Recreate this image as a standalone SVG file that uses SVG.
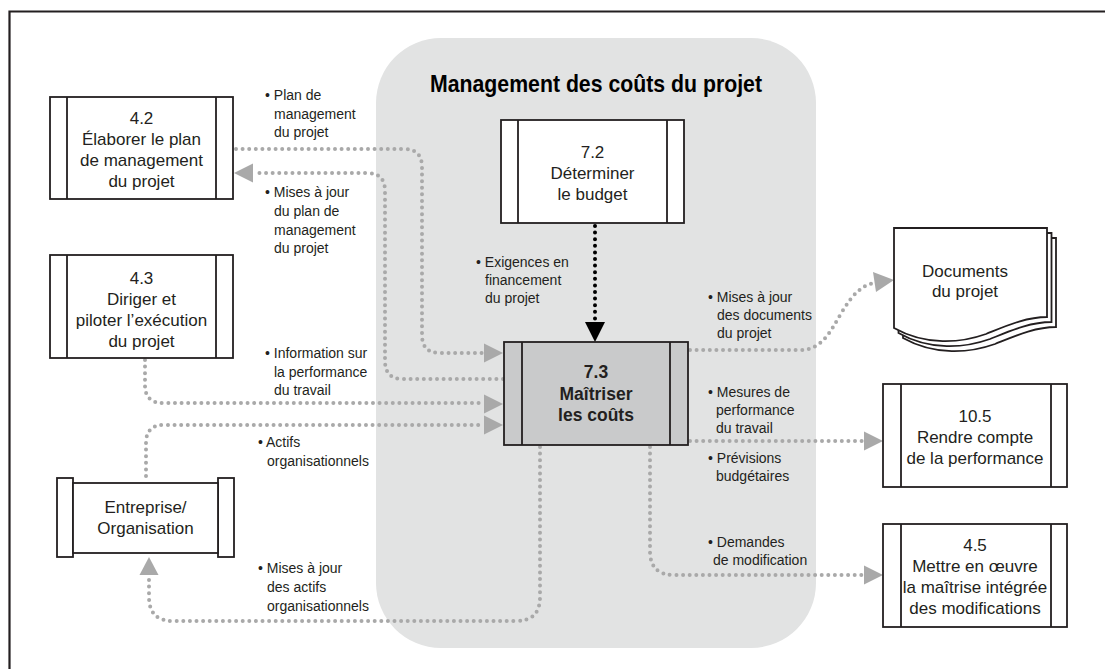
<svg xmlns="http://www.w3.org/2000/svg" width="1105" height="669" viewBox="0 0 1105 669">
<style>
.box{fill:#fff;stroke:#231f20;stroke-width:1.8}
.box73{fill:#c9cacb;stroke:#231f20;stroke-width:1.8}
.bar{fill:none;stroke:#231f20;stroke-width:1.8}
.nt{font-family:"Liberation Sans",Arial,sans-serif;font-size:17px;fill:#231f20;text-anchor:middle}
.bt{font-family:"Liberation Sans",Arial,sans-serif;font-size:17.5px;font-weight:bold;fill:#231f20;text-anchor:middle}
.lb{font-family:"Liberation Sans",Arial,sans-serif;font-size:14px;fill:#231f20}
.dot{fill:none;stroke:#a9a9a9;stroke-width:4;stroke-linecap:round;stroke-dasharray:0 6.6}
.bdot{fill:none;stroke:#000;stroke-width:4;stroke-linecap:round;stroke-dasharray:0 6.6}
.ah{fill:#a9a9a9}
</style>
<rect width="1105" height="669" fill="#fff"/>
<path d="M9.5 669 V11.5 H1105" fill="none" stroke="#231f20" stroke-width="2.2"/>
<rect x="376" y="38" width="440" height="610" rx="65" ry="65" fill="#e2e3e3"/>
<text x="596" y="92" font-family="Liberation Sans,Arial,sans-serif" font-size="24" font-weight="bold" fill="#000" text-anchor="middle" textLength="332" lengthAdjust="spacingAndGlyphs">Management des coûts du projet</text>

<g id="connectors">
<path class="dot" d="M236,149 H404 Q422,149 422,167 V335 Q422,353 440,353 H484"/>
<polygon class="ah" points="503,353 484,343.5 484,362.5"/>
<path class="dot" d="M503,379 H403 Q385,379 385,361 V191 Q385,173 367,173 H254"/>
<polygon class="ah" points="234,173 253,163.5 253,182.5"/>
<path class="dot" d="M145,360 V385 Q145,403 163,403 H484"/>
<polygon class="ah" points="503,404 484,394.5 484,413.5"/>
<path class="dot" d="M146,476 V443 Q146,425 164,425 H484"/>
<polygon class="ah" points="503,425 484,415.5 484,434.5"/>
<path class="dot" d="M540,447 V597 Q540,621 516,621 H173 Q149,621 149,597 V576"/>
<polygon class="ah" points="149,557 139.5,575 158.5,575"/>
<path class="dot" d="M690,350 H800 C822,350 830,332 842,312 C852,295 862,285 874,283"/>
<polygon class="ah" points="894,280 873,272 876,292"/>
<path class="dot" d="M690,441 H864"/>
<polygon class="ah" points="883,441 864,431.5 864,450.5"/>
<path class="dot" d="M650,447 V551 Q650,575 674,575 H864"/>
<polygon class="ah" points="883,575 864,565.5 864,584.5"/>
<path class="bdot" d="M595,226 V320"/>
<polygon points="595,342 585,322 605,322" fill="#000"/>
</g>

<g id="n42">
<rect class="box" x="50" y="97" width="183" height="102"/>
<path class="bar" d="M67,97 V199 M216,97 V199"/>
<text class="nt"><tspan x="141.5" y="124">4.2</tspan><tspan x="141.5" y="145">Élaborer le plan</tspan><tspan x="141.5" y="166">de management</tspan><tspan x="141.5" y="187">du projet</tspan></text>
</g>
<g id="n43">
<rect class="box" x="50" y="255" width="183" height="103"/>
<path class="bar" d="M67,255 V358 M216,255 V358"/>
<text class="nt"><tspan x="141.5" y="284">4.3</tspan><tspan x="141.5" y="305">Diriger et</tspan><tspan x="141.5" y="326">piloter l’exécution</tspan><tspan x="141.5" y="347">du projet</tspan></text>
</g>
<g id="ent">
<rect class="box" x="57" y="478" width="16" height="79"/>
<rect class="box" x="218" y="478" width="16" height="79"/>
<rect class="box" x="73" y="483" width="145" height="70"/>
<text class="nt"><tspan x="145.5" y="513">Entreprise/</tspan><tspan x="145.5" y="534">Organisation</tspan></text>
</g>
<g id="n72">
<rect class="box" x="501" y="120" width="183" height="103"/>
<path class="bar" d="M518,120 V223 M667,120 V223"/>
<text class="nt"><tspan x="592.5" y="158">7.2</tspan><tspan x="592.5" y="179">Déterminer</tspan><tspan x="592.5" y="200">le budget</tspan></text>
</g>
<g id="n73">
<rect class="box73" x="504" y="342" width="184" height="103"/>
<path class="bar" d="M522,342 V445 M670,342 V445"/>
<text class="bt"><tspan x="596" y="378">7.3</tspan><tspan x="596" y="400">Maîtriser</tspan><tspan x="596" y="421">les coûts</tspan></text>
</g>
<g id="docs">
<path class="box" d="M903,238 H1056 V327 C1035,327 1015,336 995,344 C970,353 935,356 903,338 Z"/>
<path class="box" d="M898.5,233 H1051.5 V322 C1030,322 1010,331 990,339 C965,348 930,351 898.5,333 Z"/>
<path class="box" d="M894,228 H1047 V317 C1026,317 1006,326 986,334 C961,343 926,346 894,328 Z"/>
<text class="nt"><tspan x="965" y="277">Documents</tspan><tspan x="965" y="297">du projet</tspan></text>
</g>
<g id="n105">
<rect class="box" x="883" y="384" width="184" height="103"/>
<path class="bar" d="M901,384 V487 M1051,384 V487"/>
<text class="nt"><tspan x="975" y="422">10.5</tspan><tspan x="975" y="443">Rendre compte</tspan><tspan x="975" y="464">de la performance</tspan></text>
</g>
<g id="n45">
<rect class="box" x="883" y="524" width="184" height="103"/>
<path class="bar" d="M901,524 V627 M1051,524 V627"/>
<text class="nt"><tspan x="975" y="551">4.5</tspan><tspan x="975" y="572">Mettre en œuvre</tspan><tspan x="975" y="593">la maîtrise intégrée</tspan><tspan x="975" y="614">des modifications</tspan></text>
</g>

<g id="labels">
<text class="lb"><tspan x="265" y="100">• Plan de</tspan><tspan x="274" y="118.5">management</tspan><tspan x="274" y="137">du projet</tspan></text>
<text class="lb"><tspan x="265" y="197">• Mises à jour</tspan><tspan x="274" y="216">du plan de</tspan><tspan x="274" y="234.5">management</tspan><tspan x="274" y="253">du projet</tspan></text>
<text class="lb"><tspan x="476" y="267">• Exigences en</tspan><tspan x="485" y="285">financement</tspan><tspan x="485" y="303">du projet</tspan></text>
<text class="lb"><tspan x="265" y="358">• Information sur</tspan><tspan x="274" y="377">la performance</tspan><tspan x="274" y="395">du travail</tspan></text>
<text class="lb"><tspan x="258" y="447">• Actifs</tspan><tspan x="267" y="466">organisationnels</tspan></text>
<text class="lb"><tspan x="258" y="573">• Mises à jour</tspan><tspan x="267" y="592">des actifs</tspan><tspan x="267" y="611">organisationnels</tspan></text>
<text class="lb"><tspan x="708" y="302">• Mises à jour</tspan><tspan x="717" y="320">des documents</tspan><tspan x="717" y="338">du projet</tspan></text>
<text class="lb"><tspan x="708" y="397">• Mesures de</tspan><tspan x="716" y="415">performance</tspan><tspan x="716" y="433">du travail</tspan></text>
<text class="lb"><tspan x="708" y="463">• Prévisions</tspan><tspan x="716" y="481">budgétaires</tspan></text>
<text class="lb"><tspan x="708" y="547">• Demandes</tspan><tspan x="713" y="565">de modification</tspan></text>
</g>
</svg>
